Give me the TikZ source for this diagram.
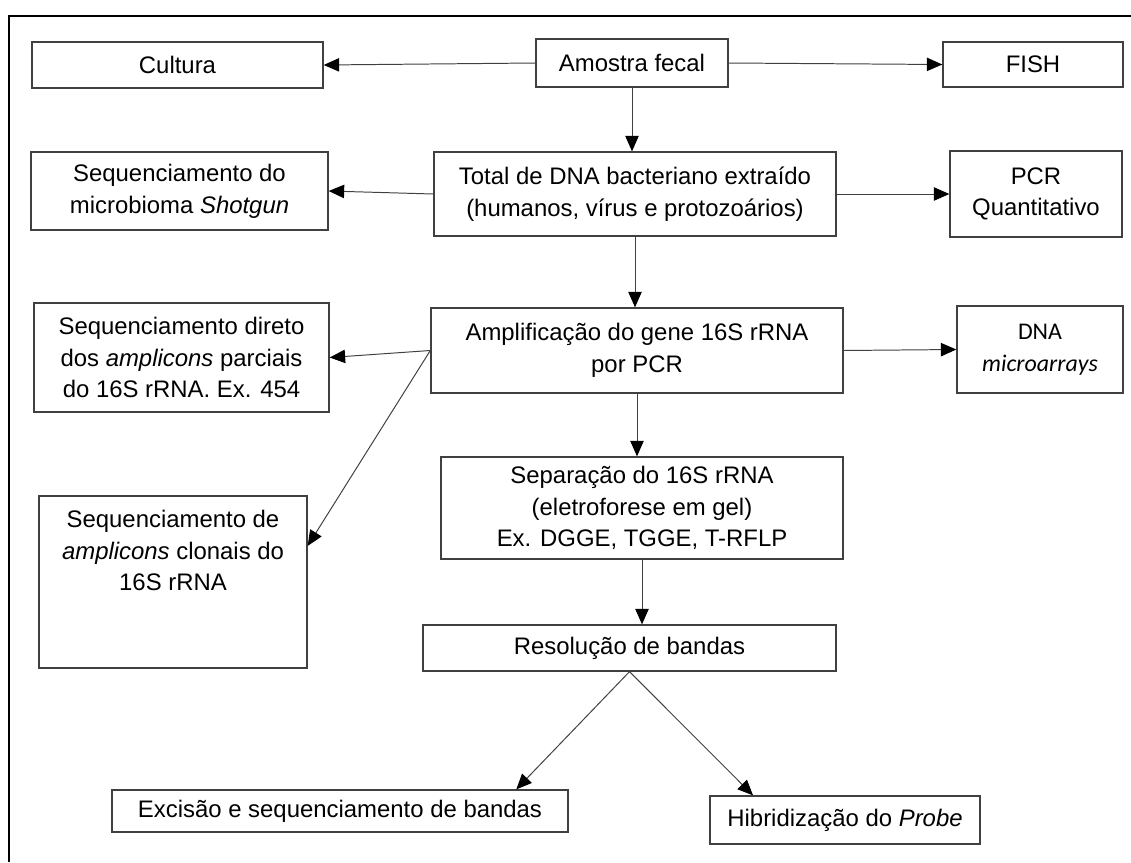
\documentclass[tikz,border=0pt]{standalone}
\usepackage{fontspec}
\setmainfont{Liberation Sans}
\newfontfamily\carlito{Carlito}
\usetikzlibrary{arrows.meta}
\definecolor{linha}{HTML}{404040}

\begin{document}
\begin{tikzpicture}[x=0.025cm, y=-0.025cm,
		caixa/.style={draw=linha, line width=0.9pt, rectangle, align=center, inner sep=0pt,
			font=\fontsize{17}{22.5}\selectfont},
		seta/.style={draw=linha, line width=0.7pt, -{Triangle[length=11pt, width=9.5pt, color=black]}}]
		\useasboundingbox (0, 0) rectangle (1131, 862);
		\draw[line width=1.6pt] (9, 862) -- (9, 16) -- (1131, 16);

		\node[caixa, minimum width=4.8cm, minimum height=1.2cm] (amostra) at (632, 63) {Amostra fecal};
		\node[caixa, minimum width=7.275cm, minimum height=1.15cm] (cultura) at (177.5, 65) {Cultura};
		\node[caixa, minimum width=4.5cm, minimum height=1.125cm] (fish) at (1033, 64.5) {FISH};
		\node[caixa, minimum width=10.05cm, minimum height=2.1cm] (total) at (635, 194) {Total de DNA bacteriano extraído\\(humanos, vírus e protozoários)};
		\node[caixa, minimum width=7.425cm, minimum height=1.95cm] (shotgun) at (179.5, 191) {Sequenciamento do\\microbioma \textit{Shotgun}};
		\node[caixa, minimum width=4.3cm, minimum height=2.15cm] (pcr) at (1036, 194) {PCR\\Quantitativo};
		\node[caixa, minimum width=10.3cm, minimum height=2.125cm] (amp) at (637, 350.5) {Amplificação do gene 16S rRNA\\por PCR};
		\node[caixa, minimum width=7.375cm, minimum height=2.725cm] (direto) at (181.5, 357.5) {Sequenciamento direto\\dos \textit{amplicons} parciais\\do 16S rRNA. Ex. 454};
		\node[caixa, minimum width=4.15cm, minimum height=2.175cm, font=\carlito\fontsize{17}{22.5}\selectfont] (micro) at (1040, 349.5) {DNA\\\textit{microarrays}};
		\node[caixa, minimum width=10.05cm, minimum height=2.55cm] (sep) at (642, 508) {Separação do 16S rRNA\\(eletroforese em gel)\\Ex. DGGE, TGGE, T-RFLP};
		\node[caixa, minimum width=6.7cm, minimum height=4.3cm] (clonais) at (173, 582) {Sequenciamento de\\\textit{amplicons} clonais do\\16S rRNA\\~\\~};
		\node[caixa, minimum width=10.325cm, minimum height=1.15cm] (res) at (629.5, 648) {Resolução de bandas};
		\node[caixa, minimum width=11.4cm, minimum height=1.05cm] (excisao) at (340, 811) {Excisão e sequenciamento de bandas};
		\node[caixa, minimum width=6.75cm, minimum height=1.2cm] (hib) at (845, 820) {Hibridização do \textit{Probe}};

		\draw[seta] (amostra.west) -- (cultura.east);
		\draw[seta] (amostra.east) -- (fish.west);
		\draw[seta] (amostra.south) -- (amostra.south |- total.north);
		\draw[seta] (total.west) -- (shotgun.east);
		\draw[seta] (total.east) -- (pcr.west);
		\draw[seta] (total.south) -- (total.south |- amp.north);
		\draw[seta] (amp.west) -- (direto.east);
		\draw[seta] (amp.west) -- (clonais.15);
		\draw[seta] (amp.east) -- (micro.west);
		\draw[seta] (amp.south) -- (amp.south |- sep.north);
		\draw[seta] (sep.south) -- (sep.south |- res.north);
		\draw[seta] (res.south) -- (excisao.7.7);
		\draw[seta] (res.south) -- (hib.165);
	\end{tikzpicture}
\end{document}
